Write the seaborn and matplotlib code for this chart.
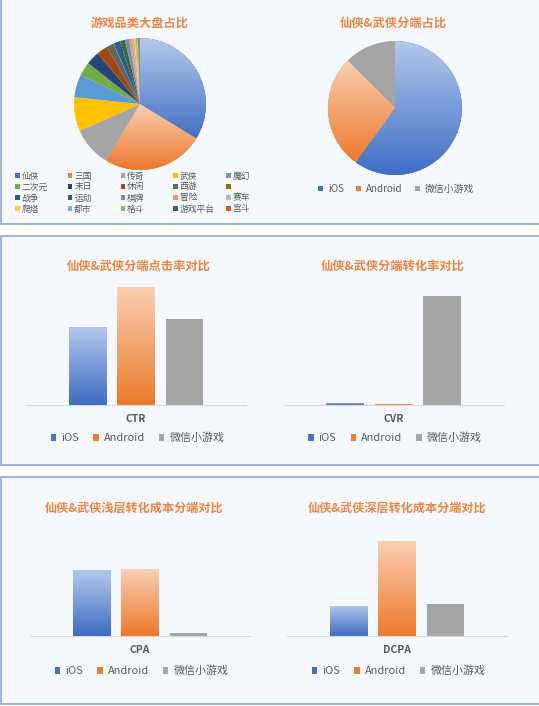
import numpy as np
import pandas as pd
import matplotlib
matplotlib.use('Agg')
import matplotlib.pyplot as plt
import seaborn as sns
from matplotlib.patches import Rectangle
from matplotlib.colors import LinearSegmentedColormap

# ---- data ----
genres = ['仙侠', '三国', '传奇', '武侠', '魔幻', '二次元', '末日', '休闲', '西游', '',
          '战争', '运动', '棋牌', '冒险', '赛车', '爬塔', '都市', '格斗', '游戏平台', '宫斗']
genre_share = [33.8, 24.9, 9.8, 8.3, 5.6, 3.4, 3.3, 2.7, 1.8, 0.1,
               1.6, 1.2, 1.0, 0.8, 0.5, 0.4, 0.3, 0.3, 0.2, 0.2]
genre_colors = ['#4472C4', '#ED7D31', '#A5A5A5', '#FFC000', '#5B9BD5', '#70AD47',
                '#264478', '#9E480E', '#636363', '#997300', '#255E91', '#43682B',
                '#698ED0', '#F1975A', '#B7B7B7', '#FFCD33', '#7CAFDD', '#8CC168',
                '#335AA1', '#D26012']

platforms = ['iOS', 'Android', '微信小游戏']
platform_share = [60.0, 27.5, 12.5]
ctr = [2.65, 4.0, 2.92]
cvr = [0.3, 0.2, 16.0]
cpa = [52.0, 53.0, 2.0]
dcpa = [31.0, 98.0, 33.0]

pal = {'iOS': '#4472C4', 'Android': '#ED7D31', '微信小游戏': '#A5A5A5'}
grad = {'iOS': ('#B4C8EC', '#3F6DC4'), 'Android': ('#FACFB2', '#ED7A2C')}

TITLE_C = '#EE8540'
TXT_C = '#595959'

sns.set_style('white')
plt.rcParams['font.family'] = ['Noto Sans CJK SC', 'DejaVu Sans']

W, H = 539, 706
fig = plt.figure(figsize=(W / 100, H / 100), dpi=100, facecolor='white')


def px_axes(x0, y0, x1, y1):
    a = fig.add_axes([x0 / W, 1 - y1 / H, (x1 - x0) / W, (y1 - y0) / H])
    a.set_facecolor('none')
    return a


def fpos(x, y):
    return (x / W, 1 - y / H)


def fill_gradient(ax, patch, top, bottom):
    bb = patch.get_path().get_extents(patch.get_patch_transform())
    cmap = LinearSegmentedColormap.from_list('g', [bottom, top])
    im = ax.imshow(np.linspace(0, 1, 200).reshape(-1, 1), cmap=cmap,
                   extent=(bb.x0, bb.x1, bb.y0, bb.y1), origin='lower', aspect='auto',
                   interpolation='bilinear', zorder=patch.get_zorder() + 0.1)
    im.set_clip_path(patch)


# panel boxes
for y0, y1 in [(-4, 224), (236, 465), (477, 704)]:
    fig.patches.append(Rectangle(fpos(1, y1), (W + 10) / W, (y1 - y0) / H,
                                 transform=fig.transFigure, facecolor='#F5F9FE',
                                 edgecolor='#8EA9DB', linewidth=1.2, zorder=-5))

# ---- pie 1: genre share ----
ax1 = px_axes(74, 38, 206, 170)
wedges, _ = ax1.pie(genre_share, colors=genre_colors, startangle=90, counterclock=False,
                    wedgeprops=dict(linewidth=0))
fill_gradient(ax1, wedges[0], '#B6C9EC', '#4470C3')
fill_gradient(ax1, wedges[1], '#F8CDB0', '#EC7A2E')
ax1.set_xlim(-1, 1)
ax1.set_ylim(-1, 1)
ax1.set_aspect('equal')
ax1.axis('off')
fig.text(*fpos(140, 23), '游戏品类大盘占比', ha='center', va='center', fontsize=8.8,
         fontweight='bold', color=TITLE_C)

for i, (lab, col) in enumerate(zip(genres, genre_colors)):
    r, c = divmod(i, 5)
    mx, my = 17 + c * 52.8, 176 + r * 11
    fig.patches.append(Rectangle(fpos(mx - 2, my + 2), 4.5 / W, 4.5 / H,
                                 transform=fig.transFigure, facecolor=col, linewidth=0, zorder=3))
    fig.text(*fpos(mx + 4.5, my), lab, ha='left', va='center', fontsize=6.3, color=TXT_C)

# ---- pie 2: platform share ----
ax2 = px_axes(328, 41, 462, 175)
w2, _ = ax2.pie(platform_share, colors=[pal[p] for p in platforms], startangle=90,
                counterclock=False, wedgeprops=dict(linewidth=0))
for wd, p in zip(w2, platforms):
    if p in grad:
        fill_gradient(ax2, wd, grad[p][0], grad[p][1])
ax2.set_xlim(-1, 1)
ax2.set_ylim(-1, 1)
ax2.set_aspect('equal')
ax2.axis('off')
fig.text(*fpos(393, 23), '仙侠&武侠分端占比', ha='center', va='center', fontsize=8.8,
         fontweight='bold', color=TITLE_C)
fig.legend(w2, platforms, loc='center', bbox_to_anchor=fpos(396, 189), ncol=3,
           frameon=False, fontsize=7.1, labelcolor=TXT_C, handlelength=0.55,
           handleheight=0.55, handletextpad=0.5, columnspacing=1.2)

# ---- bar panels ----
bar_panels = [
    ('CTR', ctr, '仙侠&武侠分端点击率对比', (26, 405), 4.24, (139, 266), (137.5, 438)),
    ('CVR', cvr, '仙侠&武侠分端转化率对比', (283.5, 405), 18.35, (393, 266), (395, 438)),
    ('CPA', cpa, '仙侠&武侠浅层转化成本分端对比', (30, 636), 98.9, (134, 508), (141.5, 671)),
    ('DCPA', dcpa, '仙侠&武侠深层转化成本分端对比', (287, 636), 129.0, (397, 508), (398.5, 671)),
]

for metric, vals, title, (x0, base), ymax, tpos, lpos in bar_panels:
    ax = px_axes(x0, base - 125, x0 + 220, base)
    df = pd.DataFrame({'metric': metric, 'platform': platforms, 'value': vals})
    sns.barplot(data=df, x='metric', y='value', hue='platform', hue_order=platforms,
                palette=pal, gap=0.22, saturation=1, linewidth=0, ax=ax)
    for cont, p in zip(ax.containers, platforms):
        if p in grad:
            for bar in cont:
                fill_gradient(ax, bar, grad[p][0], grad[p][1])
    ax.set_xlim(-0.605, 0.605)
    ax.set_ylim(0, ymax)
    ax.set_xlabel('')
    ax.set_ylabel('')
    ax.set_yticks([])
    for s in ['top', 'left', 'right']:
        ax.spines[s].set_visible(False)
    ax.spines['bottom'].set_color('#D9D9D9')
    ax.spines['bottom'].set_linewidth(0.8)
    ax.tick_params(axis='x', length=0, pad=6.5, labelsize=7.5, labelcolor=TXT_C)
    for t in ax.get_xticklabels():
        t.set_fontweight('bold')
    sns.move_legend(ax, 'center', bbox_to_anchor=fpos(*lpos), bbox_transform=fig.transFigure,
                    ncol=3, frameon=False, title=None, fontsize=7.9, labelcolor=TXT_C,
                    handlelength=0.5, handleheight=0.5, handletextpad=0.45, columnspacing=1.3)
    fig.text(*fpos(*tpos), title, ha='center', va='center',
             fontsize=8.8 if len(title) < 14 else 8.7, fontweight='bold', color=TITLE_C)

fig.savefig('out.png', dpi=100)
